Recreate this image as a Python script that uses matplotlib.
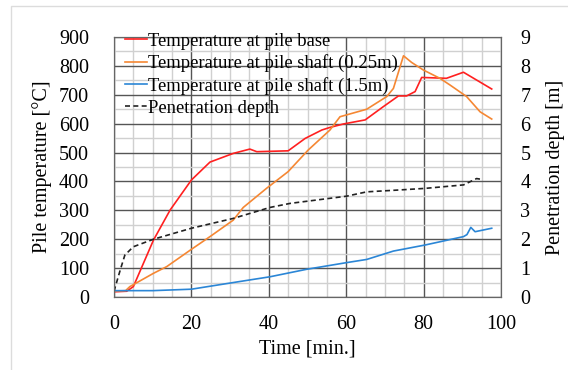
import matplotlib.pyplot as plt
from matplotlib.patches import Rectangle
from matplotlib.ticker import MultipleLocator

# readings (time in min.)
base_t = [0, 3.3, 5, 10.2, 14.5, 20, 24.8, 30.8, 35.1, 36.9, 45, 49.4, 53.7, 55.8,
          59.3, 64.9, 69.6, 73.5, 75.6, 77.8, 79.5, 85.9, 90.3, 97.6]
base_T = [18, 20, 36, 197, 301, 405, 467, 497, 512, 503, 506, 549, 578, 587,
          599, 613, 659, 696, 696, 711, 760, 757, 778, 720]

shaft025_t = [0, 3, 4.1, 10.2, 13.6, 20, 24.8, 30.8, 33.4, 39.4, 45, 50.2, 55.8, 58.4,
              65.3, 70.5, 72.2, 74.8, 76.9, 79.9, 84.2, 86.8, 91.1, 94.6, 97.6]
shaft025_T = [20, 22, 36, 82, 105, 165, 209, 266, 310, 376, 434, 509, 578, 624,
              650, 694, 722, 835, 812, 786, 757, 734, 694, 641, 616]

shaft15_t = [0, 10, 20, 30.8, 40.3, 49.8, 60.1, 65.3, 72.2, 80.4, 90.3, 91.2, 92.2,
             93.3, 97.6]
shaft15_T = [22, 22, 27, 50, 70, 96, 119, 130, 159, 180, 209, 216, 241, 226, 238]

depth_t = [0, 1.6, 2.8, 5, 10.2, 20, 30.8, 40.3, 45.5, 60.1, 65.3, 73.1, 80.4, 90.3,
           93.7, 94.6]
depth_m = [0.2, 0.93, 1.45, 1.74, 2.0, 2.38, 2.72, 3.1, 3.24, 3.49, 3.64, 3.70, 3.76,
           3.88, 4.1, 4.08]

plt.rcParams['font.family'] = ['Liberation Serif', 'DejaVu Serif']

fig = plt.figure(figsize=(5.68, 3.70), dpi=100)
fig.patches.append(Rectangle((11 / 568, -0.1), 1.1, 0.1 + (370 - 6) / 370,
                             transform=fig.transFigure, fill=False,
                             edgecolor='#dcdcdc', linewidth=1))
ax = fig.add_axes([114 / 568, 73 / 370, 387 / 568, 260 / 370])
ax2 = ax.twinx()

ax.plot(base_t, base_T, color='#ff2020', lw=1.2, label='Temperature at pile base')
ax.plot(shaft025_t, shaft025_T, color='#f58733', lw=1.2,
        label='Temperature at pile shaft (0.25m)')
ax.plot(shaft15_t, shaft15_T, color='#2b86d6', lw=1.2,
        label='Temperature at pile shaft (1.5m)')
ax2.plot(depth_t, depth_m, color='#222222', lw=1.2, ls=(0, (3, 2)),
         label='Penetration depth')

ax.set_xlim(0, 100)
ax.set_ylim(0, 900)
ax2.set_ylim(0, 9)
ax.xaxis.set_major_locator(MultipleLocator(20))
ax.xaxis.set_minor_locator(MultipleLocator(5))
ax.yaxis.set_major_locator(MultipleLocator(100))
ax.yaxis.set_minor_locator(MultipleLocator(50))
ax2.yaxis.set_major_locator(MultipleLocator(1))

ax.grid(which='major', color='#555555', lw=1)
ax.grid(which='minor', color='#d0d0d0', lw=1)
ax.set_axisbelow(True)

ax.tick_params(which='both', length=0, labelsize=14.5)
ax.tick_params(axis='y', pad=18)
ax.tick_params(axis='x', pad=13)
ax2.tick_params(which='both', length=0, labelsize=14.5, pad=14)
for a in (ax, ax2):
    for s in a.spines.values():
        s.set_color('#666666')

ax.set_xlabel('Time [min.]', fontsize=14.5, labelpad=4)
ax.set_ylabel('Pile temperature [°C]', fontsize=14.5, labelpad=5)
ax2.set_ylabel('Penetration depth [m]', fontsize=14.5, labelpad=11)

h1, l1 = ax.get_legend_handles_labels()
h2, l2 = ax2.get_legend_handles_labels()
leg = ax2.legend(h1 + h2, l1 + l2, loc='upper left', frameon=False, fontsize=13.4,
                 handlelength=1.15, handletextpad=0.05, labelspacing=0.25,
                 borderaxespad=0.0, bbox_to_anchor=(0.01, 1.045))

fig.savefig('out.png', dpi=100)
